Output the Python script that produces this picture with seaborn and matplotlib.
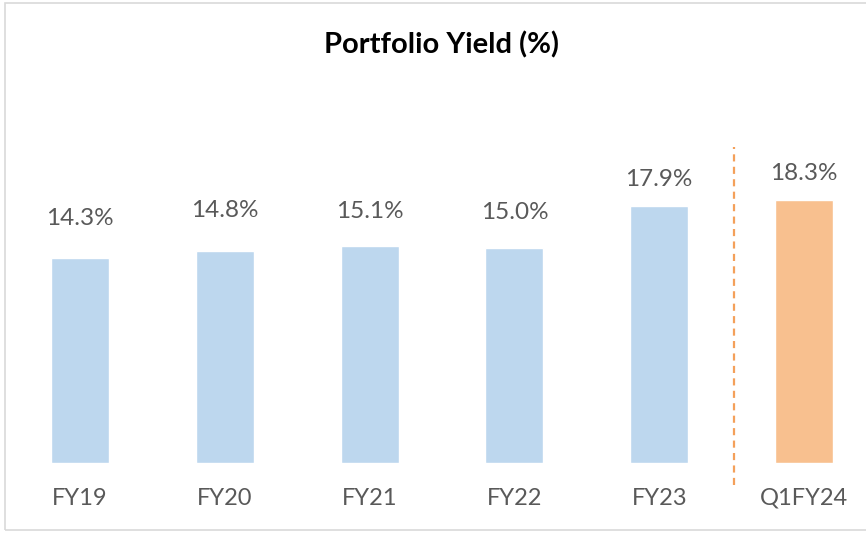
import matplotlib
matplotlib.use("Agg")
import matplotlib.pyplot as plt
import seaborn as sns
import pandas as pd
from matplotlib.patches import Rectangle

categories = ["FY19", "FY20", "FY21", "FY22", "FY23", "Q1FY24"]
values = [14.3, 14.8, 15.1, 15.0, 17.9, 18.3]
labels = ["14.3%", "14.8%", "15.1%", "15.0%", "17.9%", "18.3%"]
title = "Portfolio Yield (%)"

bar_colors = ["#BDD7EE"] * 5 + ["#F8C08F"]
label_offsets_px = [39, 40, 35, 35, 27, 27]

sns.set_theme(style="white")
plt.rcParams["font.family"] = ["Lato", "DejaVu Sans"]

W, H = 866, 533
fig = plt.figure(figsize=(W / 100, H / 100), dpi=100)

px_per_unit = 14.35
base_px = 463
x0_px, step_px = 80, 144.8

# axes in pixel coordinates
ax_top, ax_bot = 100, base_px
ax = fig.add_axes([0, (H - ax_bot) / H, 1, (ax_bot - ax_top) / H])

df = pd.DataFrame({"cat": categories, "val": values})
sns.barplot(data=df, x="cat", y="val", hue="cat", palette=bar_colors,
            width=0.4, legend=False, ax=ax, saturation=1)

ax.set_xlim((0 - x0_px) / step_px, (W - x0_px) / step_px)
ax.set_ylim(0, (base_px - ax_top) / px_per_unit)

for i, (v, lab, off) in enumerate(zip(values, labels, label_offsets_px)):
    ax.annotate(lab, (i, v), xytext=(0, off * 0.72), textcoords="offset points",
                ha="center", va="center", fontsize=17.5, color="#595959")

# dashed separator
ax.vlines(4.5 + 2.4 / step_px, (base_px - 485) / px_per_unit, (base_px - 147) / px_per_unit,
          colors="#F4A05A", linestyles=(0, (3.2, 2.4)), linewidth=1.6, clip_on=False)

ax.set_xticks(range(len(categories)))
ax.set_xticklabels(categories, fontsize=17, color="#595959")
ax.tick_params(axis="x", length=0, pad=18)
ax.set_yticks([])
ax.set_xlabel("")
ax.set_ylabel("")
for s in ax.spines.values():
    s.set_visible(False)

fig.text(441 / W, 1 - 45 / H, title, ha="center", va="center",
         fontsize=21, fontweight="bold", color="black")

# outer frame
fig.patches.append(Rectangle((5 / W, 3 / H), 1, 1 - 6 / H,
                             transform=fig.transFigure, fill=False,
                             edgecolor="#D9D9D9", linewidth=1.2))

fig.savefig("out.png", dpi=100)
